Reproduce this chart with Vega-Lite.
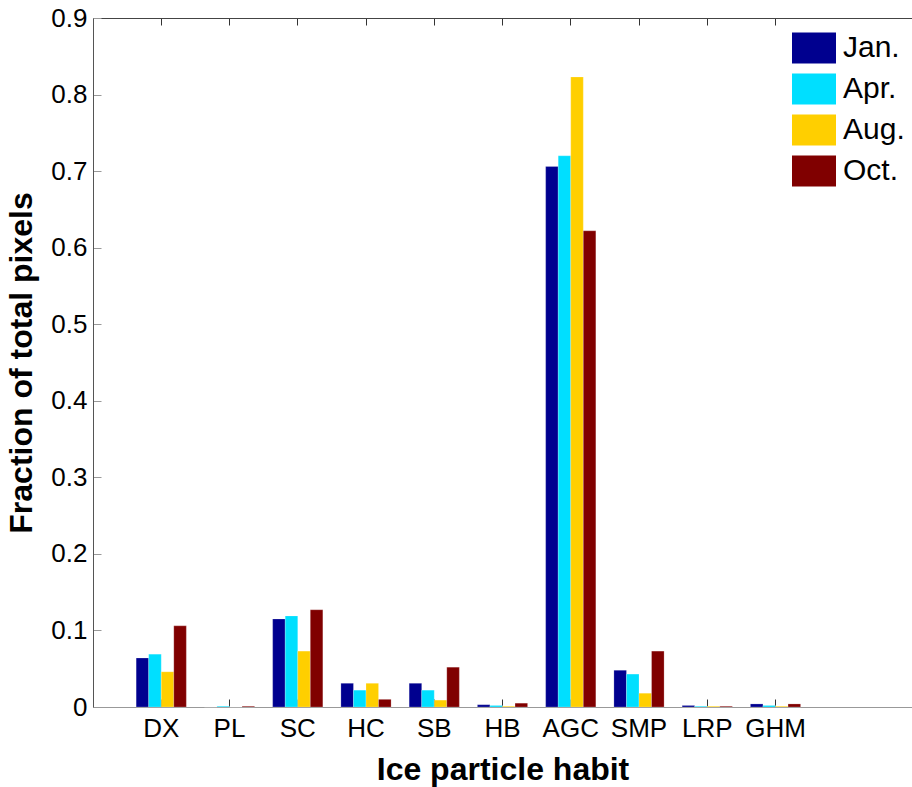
{
  "$schema": "https://vega.github.io/schema/vega-lite/v6.json",
  "width": 819,
  "height": 689,
  "autosize": {"type": "none"},
  "padding": {"left": 93, "top": 18, "right": 0, "bottom": 80},
  "background": "white",
  "config": {
    "view": {"stroke": null},
    "font": "Liberation Sans",
    "axis": {"grid": false, "labelFont": "Liberation Sans", "titleFont": "Liberation Sans", "labelColor": "black", "titleColor": "black"}
  },
  "data": {"values": [
    {"habit": "DX", "month": "Jan.", "value": 0.064},
    {"habit": "DX", "month": "Apr.", "value": 0.069},
    {"habit": "DX", "month": "Aug.", "value": 0.046},
    {"habit": "DX", "month": "Oct.", "value": 0.106},
    {"habit": "PL", "month": "Jan.", "value": 0.0},
    {"habit": "PL", "month": "Apr.", "value": 0.001},
    {"habit": "PL", "month": "Aug.", "value": 0.0},
    {"habit": "PL", "month": "Oct.", "value": 0.001},
    {"habit": "SC", "month": "Jan.", "value": 0.115},
    {"habit": "SC", "month": "Apr.", "value": 0.119},
    {"habit": "SC", "month": "Aug.", "value": 0.073},
    {"habit": "SC", "month": "Oct.", "value": 0.127},
    {"habit": "HC", "month": "Jan.", "value": 0.031},
    {"habit": "HC", "month": "Apr.", "value": 0.022},
    {"habit": "HC", "month": "Aug.", "value": 0.031},
    {"habit": "HC", "month": "Oct.", "value": 0.010},
    {"habit": "SB", "month": "Jan.", "value": 0.031},
    {"habit": "SB", "month": "Apr.", "value": 0.022},
    {"habit": "SB", "month": "Aug.", "value": 0.009},
    {"habit": "SB", "month": "Oct.", "value": 0.052},
    {"habit": "HB", "month": "Jan.", "value": 0.003},
    {"habit": "HB", "month": "Apr.", "value": 0.002},
    {"habit": "HB", "month": "Aug.", "value": 0.001},
    {"habit": "HB", "month": "Oct.", "value": 0.005},
    {"habit": "AGC", "month": "Jan.", "value": 0.706},
    {"habit": "AGC", "month": "Apr.", "value": 0.720},
    {"habit": "AGC", "month": "Aug.", "value": 0.823},
    {"habit": "AGC", "month": "Oct.", "value": 0.622},
    {"habit": "SMP", "month": "Jan.", "value": 0.048},
    {"habit": "SMP", "month": "Apr.", "value": 0.043},
    {"habit": "SMP", "month": "Aug.", "value": 0.018},
    {"habit": "SMP", "month": "Oct.", "value": 0.073},
    {"habit": "LRP", "month": "Jan.", "value": 0.002},
    {"habit": "LRP", "month": "Apr.", "value": 0.001},
    {"habit": "LRP", "month": "Aug.", "value": 0.001},
    {"habit": "LRP", "month": "Oct.", "value": 0.001},
    {"habit": "GHM", "month": "Jan.", "value": 0.004},
    {"habit": "GHM", "month": "Apr.", "value": 0.002},
    {"habit": "GHM", "month": "Aug.", "value": 0.001},
    {"habit": "GHM", "month": "Oct.", "value": 0.004}
  ]},
  "layer": [
    {
      "mark": {"type": "bar", "opacity": 0},
      "encoding": {
        "x": {
          "field": "habit", "type": "nominal",
          "scale": {"domain": ["DX","PL","SC","HC","SB","HB","AGC","SMP","LRP","GHM","_"], "paddingInner": 0, "paddingOuter": 0.5},
          "axis": {"orient": "top", "values": ["DX","PL","SC","HC","SB","HB","AGC","SMP","LRP","GHM"], "labels": false, "title": null, "tickSize": -7, "tickColor": "#333", "domainColor": "#444", "ticks": true}
        }
      }
    },
    {
      "mark": {"type": "bar", "stroke": "white", "strokeOpacity": 0.35, "strokeWidth": 0.6},
      "encoding": {
        "x": {
          "field": "habit", "type": "nominal",
          "scale": {"domain": ["DX","PL","SC","HC","SB","HB","AGC","SMP","LRP","GHM","_"], "paddingInner": 0, "paddingOuter": 0.5},
          "axis": {"orient": "bottom", "values": ["DX","PL","SC","HC","SB","HB","AGC","SMP","LRP","GHM"], "labelAngle": 0, "labelFontSize": 26, "labelPadding": 16, "tickSize": -8, "tickColor": "#333", "domainColor": "#999", "title": "Ice particle habit", "titleFontSize": 32, "titleFontWeight": "bold", "titlePadding": 13}
        },
        "xOffset": {
          "field": "month", "type": "nominal",
          "scale": {"domain": ["Jan.","Apr.","Aug.","Oct."], "paddingOuter": 0.72, "paddingInner": 0}
        },
        "y": {
          "field": "value", "type": "quantitative",
          "scale": {"domain": [0, 0.9], "nice": false},
          "axis": {"values": [0,0.1,0.2,0.3,0.4,0.5,0.6,0.7,0.8,0.9], "labelExpr": "datum.value == 0 ? '0' : format(datum.value, '.1f')", "labelFontSize": 26, "labelPadding": 14, "tickSize": -8, "tickColor": "#999", "domainColor": "#555", "title": "Fraction of total pixels", "titleFontSize": 32, "titleFontWeight": "bold", "titlePadding": 12}
        },
        "color": {
          "field": "month", "type": "nominal",
          "scale": {"domain": ["Jan.","Apr.","Aug.","Oct."], "range": ["#00008F","#00DFFF","#FFCF00","#800000"]},
          "legend": {"orient": "none", "legendX": 699, "legendY": 8, "title": null, "padding": 0, "symbolType": "M-1,-0.7L1,-0.7L1,0.7L-1,0.7Z", "symbolSize": 1936, "symbolStrokeWidth": 0, "symbolOpacity": 1, "labelFontSize": 30, "labelOffset": 7, "rowPadding": 3, "labelColor": "black", "labelFont": "Liberation Sans"}
        }
      }
    }
  ],
  "resolve": {"axis": {"x": "independent"}}
}
